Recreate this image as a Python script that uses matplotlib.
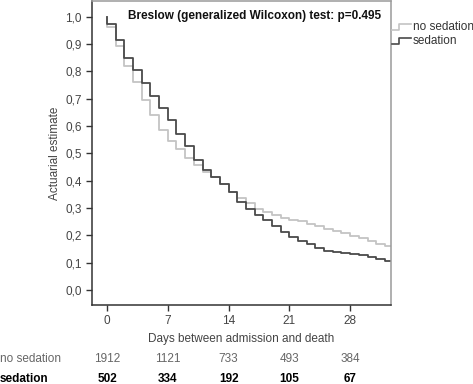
import matplotlib.pyplot as plt
import numpy as np
import matplotlib
from matplotlib.lines import Line2D
matplotlib.rcParams['font.family'] = ['Liberation Sans', 'DejaVu Sans']

days = np.arange(0, 33)
# actuarial estimate after the drop on each day
no_sedation = [0.961, 0.894, 0.821, 0.760, 0.696, 0.639, 0.586, 0.547, 0.515, 0.484,
               0.456, 0.432, 0.414, 0.387, 0.359, 0.338, 0.319, 0.298, 0.286, 0.274,
               0.265, 0.258, 0.252, 0.243, 0.234, 0.225, 0.215, 0.207, 0.197, 0.189,
               0.180, 0.170, 0.162]
sedation = [0.973, 0.915, 0.851, 0.805, 0.758, 0.712, 0.668, 0.622, 0.572, 0.526,
            0.477, 0.438, 0.414, 0.387, 0.359, 0.322, 0.295, 0.274, 0.255, 0.234,
            0.213, 0.195, 0.180, 0.167, 0.152, 0.142, 0.138, 0.134, 0.131, 0.128,
            0.122, 0.112, 0.105]
end_day = 32.7

risk_days = [0, 7, 14, 21, 28]
risk_no_sedation = [1912, 1121, 733, 493, 384]
risk_sedation = [502, 334, 192, 105, 67]

c_nosed = '#c4c4c4'
c_sed = '#4a4a4a'

fig = plt.figure(figsize=(4.73, 3.84), dpi=100)
ax = fig.add_axes([92/473, 1-305/384, (391-92)/473, 304/384])

def curve(vals):
    x = np.concatenate([[0], days, [end_day]])
    y = np.concatenate([[1.0], vals, [vals[-1]]])
    return x, y

x, y = curve(no_sedation)
ax.plot(x, y, drawstyle='steps-post', color=c_nosed, lw=1.3)
x, y = curve(sedation)
ax.plot(x, y, drawstyle='steps-post', color=c_sed, lw=1.3)

ax.set_xlim(-1.73, end_day)
ax.set_ylim(-0.055, 1.058)
ax.set_xticks(risk_days)
ax.set_yticks(np.arange(0, 1.01, 0.1))
ax.set_yticklabels([('%.1f' % v).replace('.', ',') for v in np.arange(0, 1.01, 0.1)])
ax.tick_params(labelsize=8.5, labelcolor='#444444', color='#333333', length=4, width=1)
ax.spines['left'].set_color('#333333')
ax.spines['bottom'].set_color('#333333')
ax.spines['top'].set_color('#9a9a9a')
ax.spines['right'].set_color('#9a9a9a')
for s in ax.spines.values():
    s.set_linewidth(1.1)

ax.set_xlabel('Days between admission and death', fontsize=8.5, color='#444444', labelpad=4)
ax.set_ylabel('Actuarial estimate', fontsize=8.5, color='#444444', labelpad=3)

ax.text(0.12, 0.952, 'Breslow (generalized Wilcoxon) test: p=0.495', transform=ax.transAxes,
        fontsize=8.5, fontweight='bold', color='#111111', va='center')

# legend with step symbols
def leg_symbol(y0, color, label):
    px = [392, 399, 399, 411]
    py = [y0 + 3, y0 + 3, y0 - 3, y0 - 3]
    fig.add_artist(Line2D([p/473 for p in px], [1 - p/384 for p in py], color=color, lw=1.2))
    fig.text(413/473, 1 - y0/384, label, fontsize=8.5, color='#333333', va='center')

leg_symbol(27, c_nosed, 'no sedation')
leg_symbol(41, c_sed, 'sedation')

# numbers at risk
fig.text(0.0, 1 - 359/384, 'no sedation', fontsize=8.5, color='#666666', va='center')
fig.text(0.0, 1 - 379/384, 'sedation', fontsize=8.5, color='black', fontweight='bold', va='center')
for d, a, b in zip(risk_days, risk_no_sedation, risk_sedation):
    ax.annotate(str(a), (d, 0), xycoords=('data', 'figure fraction'), xytext=(d, 1 - 359/384),
                textcoords=('data', 'figure fraction'), ha='center', va='center',
                fontsize=8.5, color='#666666')
    ax.annotate(str(b), (d, 0), xycoords=('data', 'figure fraction'), xytext=(d, 1 - 379/384),
                textcoords=('data', 'figure fraction'), ha='center', va='center',
                fontsize=8.5, color='black', fontweight='bold')

fig.savefig('out.png', dpi=100)
